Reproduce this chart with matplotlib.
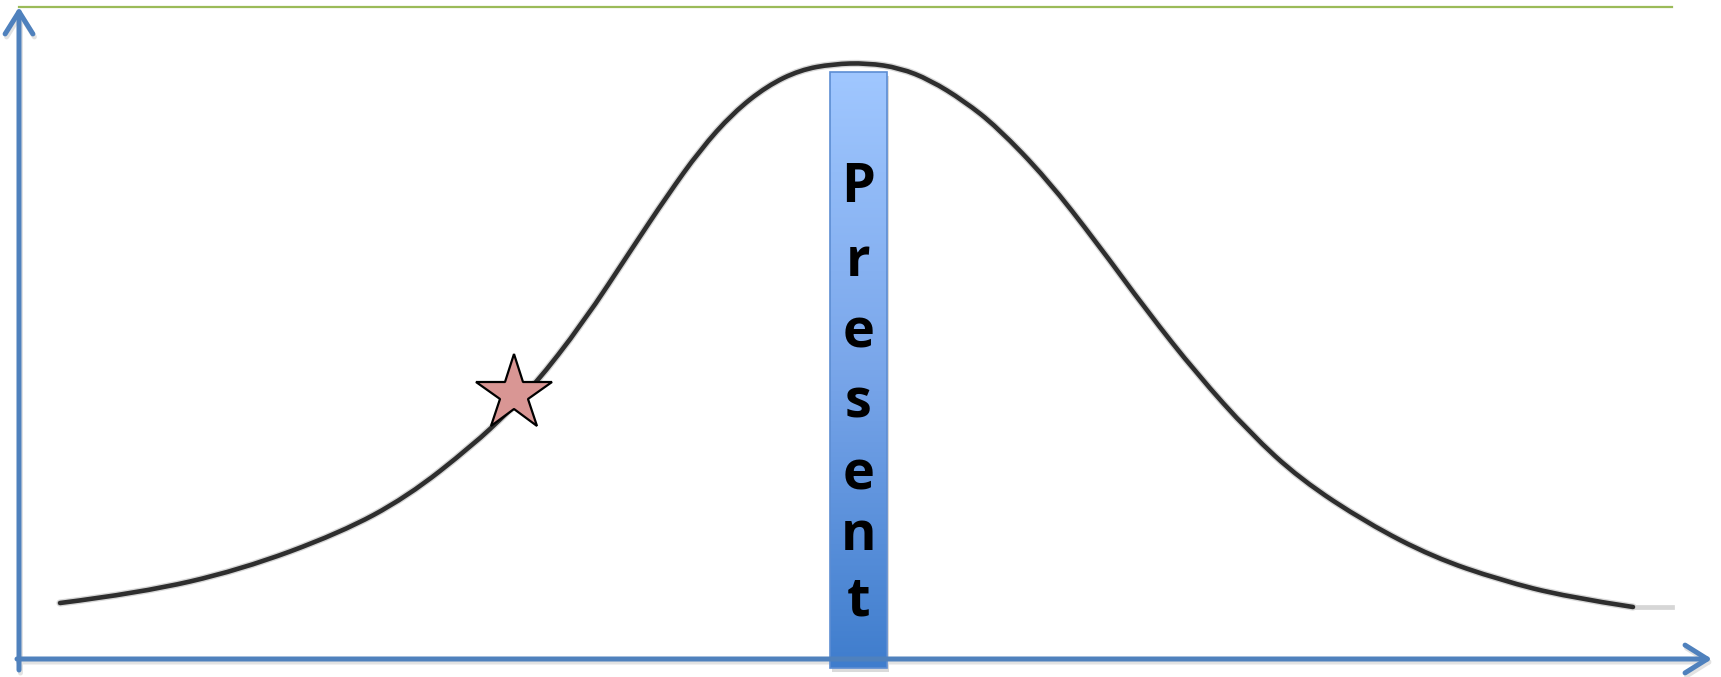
import numpy as np
import matplotlib.pyplot as plt
from matplotlib.colors import LinearSegmentedColormap
from matplotlib.patches import Rectangle, PathPatch
from matplotlib.path import Path

# curva (tiempo, nivel) en unidades de pixel desde el origen
tiempo = [41, 121, 221, 321, 388, 454, 488, 514, 564, 614, 648, 681, 714, 748,
          781, 814, 848, 881, 911, 945, 978, 1028, 1078, 1128, 1178, 1231,
          1281, 1348, 1414, 1481, 1548, 1614]
nivel = [56, 66, 89, 126, 162, 214, 246, 272, 336, 412, 463, 509, 546, 573,
         589, 595, 596, 591, 579, 558, 532, 480, 416, 348, 285, 226,
         180, 136, 102, 79, 62, 52]
cola_t = [1614, 1653]
cola_n = [52, 52]

# barra "Present"
barra_t = [811, 868]
barra_n = [-9, 587]
letras = list("Present")
lineas_base = [202, 276, 347, 418, 489, 550, 616]   # pixel y de cada letra

# estrella
estrella = (495, 265)

# ejes
eje_y = [(0, -11), (0, 652)]
eje_x = [(-2, 0), (1693, 0)]
linea_sup = ([0, 1653], [652, 652])

W, H = 1721, 677
ox, oy = 19, 659


def trazo_suave(xs, ys):
    # bezier cuadratico usando los puntos como control (pasa por los puntos medios)
    pts = np.column_stack([xs, ys]).astype(float)
    verts = [pts[0]]
    codes = [Path.MOVETO]
    for i in range(1, len(pts) - 1):
        fin = (pts[i] + pts[i + 1]) / 2 if i < len(pts) - 2 else pts[i + 1]
        verts += [pts[i], fin]
        codes += [Path.CURVE3, Path.CURVE3]
    return Path(verts, codes)


fig = plt.figure(figsize=(W / 100, H / 100), dpi=100)
ax = fig.add_axes([0, 0, 1, 1])
ax.set_xlim(-ox, W - ox)
ax.set_ylim(-(H - oy), oy)
ax.axis('off')

azul = '#4F81BD'

# linea verde superior
ax.plot(linea_sup[0], linea_sup[1], color='#9BBB59', lw=1.6, zorder=2)

# curva con un halo suave
camino = trazo_suave(tiempo, nivel)
ax.add_patch(PathPatch(camino, facecolor='none', edgecolor='#606060', lw=5.2,
                       alpha=0.25, capstyle='round', zorder=3))
ax.add_patch(PathPatch(camino, facecolor='none', edgecolor='#2e2e2e', lw=3.3,
                       capstyle='round', zorder=4))
ax.plot(cola_t, cola_n, color='#d6d6d6', lw=3.4, zorder=3)

# sombra de los ejes (debajo de la barra)
estilo = '->,head_length=0.8,head_width=0.5'
for (a, b) in [eje_y, eje_x]:
    ax.annotate('', xy=(b[0] + 1.5, b[1] - 3), xytext=(a[0] + 1.5, a[1] - 3),
                arrowprops=dict(arrowstyle=estilo, lw=3.6, color='#e2e2e2',
                                mutation_scale=20, shrinkA=0, shrinkB=0),
                zorder=4.2)

# barra con degradado
cmap = LinearSegmentedColormap.from_list('barra', ['#3F7DCD', '#79A6EA', '#A0C7FF'])
grad = np.linspace(0, 1, 256).reshape(-1, 1)
ax.imshow(grad, cmap=cmap, origin='lower', aspect='auto',
          extent=[barra_t[0], barra_t[1], barra_n[0], barra_n[1]], zorder=5)
ax.add_patch(Rectangle((barra_t[0] + 2, barra_n[0] - 4), barra_t[1] - barra_t[0],
                       barra_n[1] - barra_n[0], facecolor='#dadada',
                       edgecolor='none', zorder=4.5))
ax.add_patch(Rectangle((barra_t[0], barra_n[0]), barra_t[1] - barra_t[0],
                       barra_n[1] - barra_n[0], facecolor='none',
                       edgecolor='#5C8DD3', lw=1.2, zorder=6))

xc = (barra_t[0] + barra_t[1]) / 2
for letra, yb in zip(letras, lineas_base):
    ax.text(xc, oy - yb, letra, ha='center', va='baseline', fontsize=39,
            fontweight='bold', family=['Open Sans', 'DejaVu Sans'],
            color='black', zorder=7)

# estrella
ax.plot(*estrella, marker='*', markersize=57, markerfacecolor='#D99694',
        markeredgecolor='black', markeredgewidth=1.6, zorder=8)

# flechas de los ejes
for (a, b) in [eje_y, eje_x]:
    ax.annotate('', xy=b, xytext=a,
                arrowprops=dict(arrowstyle=estilo, lw=3.6, color=azul,
                                mutation_scale=20, shrinkA=0, shrinkB=0),
                zorder=9)

fig.savefig('out.png', dpi=100)
